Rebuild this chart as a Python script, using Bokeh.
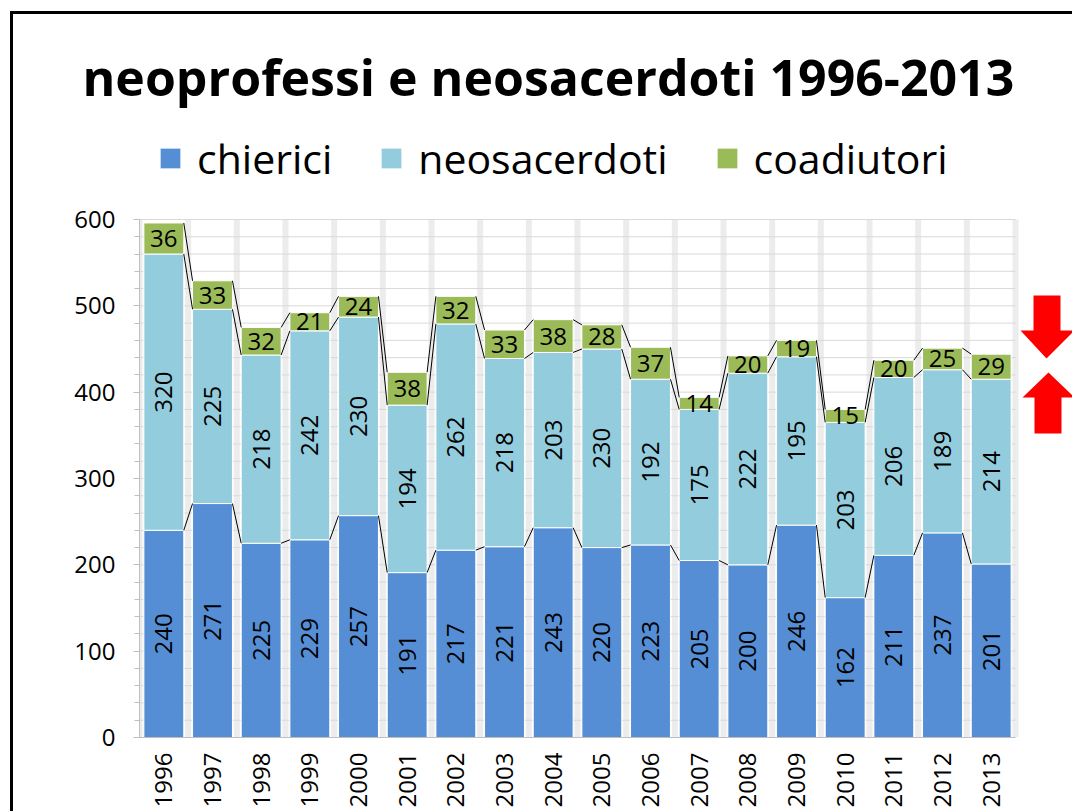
import numpy as np
from bokeh.plotting import figure
from bokeh.models import (ColumnDataSource, FixedTicker, Legend, LegendItem,
                          Range1d, InlineStyleSheet)
from bokeh.core.properties import value
from bokeh.embed import file_html
from bokeh.resources import INLINE

# ---------------- data ----------------
years = ["1996", "1997", "1998", "1999", "2000", "2001", "2002", "2003", "2004",
         "2005", "2006", "2007", "2008", "2009", "2010", "2011", "2012", "2013"]
chierici = [240, 271, 225, 229, 257, 191, 217, 221, 243, 220, 223, 205, 200, 246, 162, 211, 237, 201]
neosacerdoti = [320, 225, 218, 242, 230, 194, 262, 218, 203, 230, 192, 175, 222, 195, 203, 206, 189, 214]
coadiutori = [36, 33, 32, 21, 24, 38, 32, 33, 38, 28, 37, 14, 20, 19, 15, 20, 25, 29]
series_names = ["chierici", "neosacerdoti", "coadiutori"]
colors = ["#558ed5", "#93cddd", "#9bbb59"]
title_text = "neoprofessi e neosacerdoti 1996-2013"
y_ticks = [0, 100, 200, 300, 400, 500, 600]
y_minor = list(range(0, 601, 20))

# ---------------- layout constants (pixels) ----------------
W, H = 1072, 811
FRAME_L, FRAME_T, FRAME_B = 139, 120, 737   # frame left edge / top edge / y=0 baseline
SLOT = 48.667                               # px per category
PXU = 518 / 600                             # px per y unit
FONT = "Open Sans"
BAR_W = 0.82

n = len(years)
idx = np.arange(n)
c = np.array(chierici, dtype=float)
ne = np.array(neosacerdoti, dtype=float)
co = np.array(coadiutori, dtype=float)


def dx(px):
    return (px - FRAME_L) / SLOT - 0.5


def dy(py):
    return (FRAME_B - py) / PXU


src = ColumnDataSource(dict(x=idx, chierici=c, neosacerdoti=ne, coadiutori=co))

p = figure(width=W, height=H, x_range=Range1d(-0.5, dx(W)), y_range=Range1d(0, dy(FRAME_T)),
           output_backend="svg", toolbar_location=None, title=title_text,
           min_border_left=FRAME_L, min_border_right=0, min_border_top=FRAME_T,
           min_border_bottom=H - FRAME_B)
p.outline_line_color = None
p.background_fill_color = "white"
p.border_fill_color = "white"
p.xgrid.visible = False
p.ygrid.visible = False

# title
p.title.text_font = FONT
p.title.text_font_size = "50px"
p.title.text_font_style = "bold"
p.title.text_color = "black"
p.title.align = "left"
p.title.offset = -57
p.title.standoff = 20

# axes
p.yaxis.ticker = FixedTicker(ticks=y_ticks, minor_ticks=y_minor)
p.yaxis.bounds = (0, 600)
p.yaxis.axis_line_color = "#bfbfbf"
p.yaxis.major_tick_line_color = "#bfbfbf"
p.yaxis.minor_tick_line_color = "#bfbfbf"
p.yaxis.major_tick_in = 0
p.yaxis.major_tick_out = 6
p.yaxis.minor_tick_in = 0
p.yaxis.minor_tick_out = 5
p.yaxis.major_label_text_font = FONT
p.yaxis.major_label_text_font_size = "24px"
p.yaxis.major_label_text_color = "black"
p.yaxis.major_label_standoff = 18

p.xaxis.ticker = FixedTicker(ticks=list(idx))
p.xaxis.bounds = (-0.5, n - 0.5)
p.xaxis.major_label_overrides = {int(i): y for i, y in zip(idx, years)}
p.xaxis.major_label_orientation = np.pi / 2
p.xaxis.axis_line_color = "#bfbfbf"
p.xaxis.major_tick_line_color = None
p.xaxis.minor_tick_line_color = None
p.xaxis.major_label_text_font = FONT
p.xaxis.major_label_text_font_size = "24px"
p.xaxis.major_label_text_color = "black"
p.xaxis.major_label_standoff = 9

# gridwork inside the plot area (vertical gap bands, then horizontal lines)
bx = idx.tolist() + [n]
p.segment(x0=[b - 0.5 for b in bx], y0=0, x1=[b - 0.5 for b in bx], y1=600,
          line_color="#ececec", line_width=6)
gy = y_minor[1:]
p.segment(x0=-0.5, y0=gy, x1=n - 0.5, y1=gy, line_color="#d9d9d9", line_width=1)

# stacked bars
rs = p.vbar_stack(series_names, x="x", width=BAR_W, source=src, color=colors,
                  line_color="white", line_width=1)

# series lines between bars
for lv in [c, c + ne, c + ne + co]:
    p.segment(x0=idx[:-1] + BAR_W / 2, y0=lv[:-1], x1=idx[1:] - BAR_W / 2, y1=lv[1:],
              line_color="black", line_width=1)

# value labels
lab = dict(text_font=value(FONT), text_font_size="24px", text_align="center",
           text_baseline="middle", text_color="black")
p.text(x=idx, y=c / 2, text=[str(v) for v in chierici], angle=np.pi / 2, **lab)
p.text(x=idx, y=c + ne / 2, text=[str(v) for v in neosacerdoti], angle=np.pi / 2, **lab)
p.text(x=idx, y=c + ne + co / 2, text=[str(v) for v in coadiutori], **lab)

# legend
legend = Legend(items=[LegendItem(label=nm, renderers=[r]) for nm, r in zip(series_names, rs)],
                orientation="horizontal", location=(18, 551), padding=0, margin=0,
                glyph_width=26, glyph_height=26, label_standoff=14, spacing=46,
                label_text_font=FONT, label_text_font_size="41px", label_text_color="black",
                border_line_color=None, background_fill_alpha=0)
p.add_layout(legend, "center")

# red arrows (decoration)
p.patch(x=[dx(1033), dx(1060), dx(1060), dx(1074), dx(1046), dx(1020), dx(1033)],
        y=[dy(295), dy(295), dy(330), dy(330), dy(358), dy(330), dy(330)],
        fill_color="red", line_color=None)
p.patch(x=[dx(1048), dx(1074), dx(1061), dx(1061), dx(1034), dx(1034), dx(1022)],
        y=[dy(372), dy(397), dy(397), dy(433), dy(433), dy(397), dy(397)],
        fill_color="red", line_color=None)

# slide border (left and top edges of the slide frame)
p.stylesheets = [InlineStyleSheet(css=(
    ":host { position: relative; }"
    ":host::after { content: ''; position: absolute; left: 10px; top: 11px; right: 0; bottom: 0;"
    " border-left: 3px solid black; border-top: 3px solid black; pointer-events: none; }"))]

open("out.html", "w").write(file_html(p, INLINE))
